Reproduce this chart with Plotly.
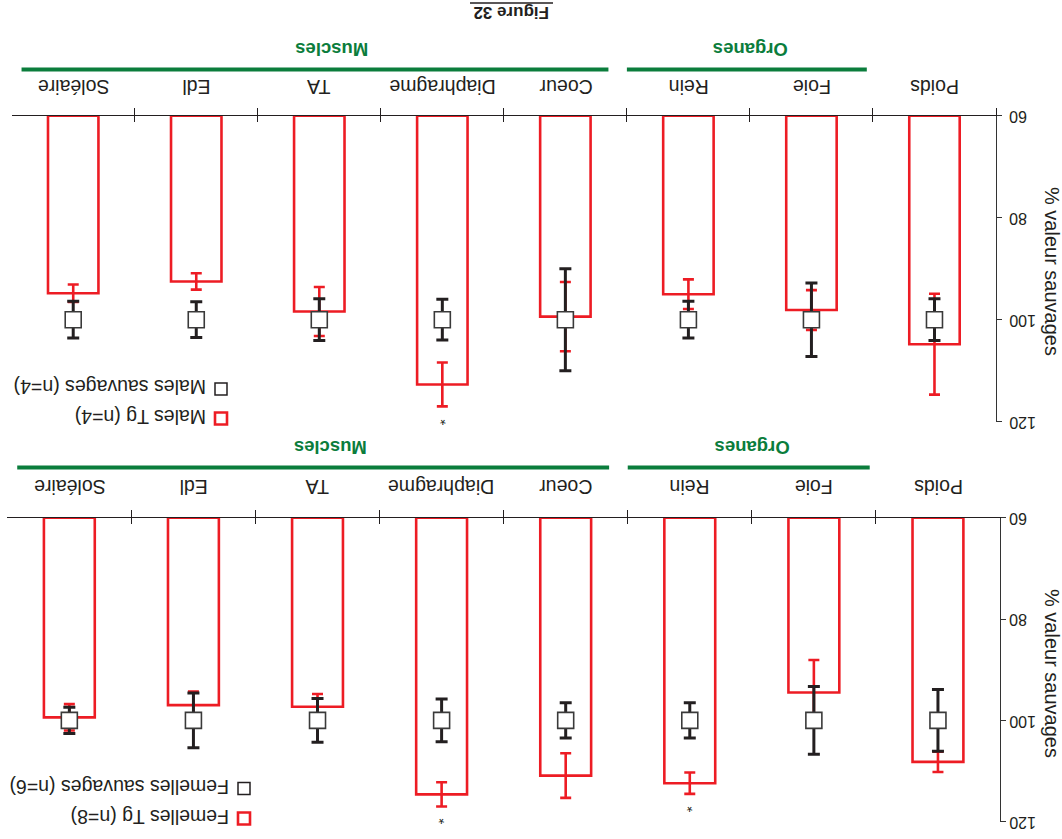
import plotly.graph_objects as go

# ---------------- data ----------------
categories = ["Poids", "Foie", "Rein", "Coeur", "Diaphragme", "TA", "Edl", "Soléaire"]

# Males (top panel)
males_tg = [104.8, 98.1, 95.0, 99.4, 112.7, 98.4, 92.5, 94.8]
males_tg_err = [9.9, 3.9, 2.9, 6.8, 4.3, 4.8, 1.6, 1.7]
males_wt = [100, 100, 100, 100, 100, 100, 100, 100]
males_wt_err = [4.1, 7.2, 3.6, 10.0, 4.0, 4.1, 3.5, 3.6]
males_signif = ["Diaphragme"]

# Females (bottom panel)
females_tg = [108.2, 94.5, 112.4, 110.9, 114.6, 97.3, 97.0, 99.4]
females_tg_err = [2.0, 6.4, 2.1, 4.4, 2.4, 2.5, 2.7, 2.6]
females_wt = [100, 100, 100, 100, 100, 100, 100, 100]
females_wt_err = [6.1, 6.7, 3.5, 3.5, 4.2, 4.3, 5.4, 2.6]
females_signif = ["Rein", "Diaphragme"]

legend_males = ["Males Tg (n=4)", "Males sauvages (n=4)"]
legend_females = ["Femelles Tg (n=8)", "Femelles sauvages (n=6)"]
group_names = ["Organes", "Muscles"]
y_ticks = [60, 80, 100, 120]
y_title = "% valeur sauvages"
fig_title = "Figure 32"

# ---------------- style ----------------
RED = "#ed1c24"
BLK = "#231f20"
GREEN = "#0b7d3c"
FONT = "Liberation Sans, Arial, sans-serif"
BASE = 60

W, H = 1062, 839


def px(x):
    return x / W


def py(y):
    return 1 - y / H


fig = go.Figure()

panels = [
    dict(tg=males_tg, tge=males_tg_err, wt=males_wt, wte=males_wt_err, sig=males_signif,
         xa="x", xb="x3", ya="y", lab_y=86.5),
    dict(tg=females_tg, tge=females_tg_err, wt=females_wt, wte=females_wt_err, sig=females_signif,
         xa="x2", xb="x4", ya="y2", lab_y=487.5),
]

for p in panels:
    fig.add_trace(go.Bar(
        x=categories, y=[v - BASE for v in p["tg"]], base=BASE, width=0.41,
        marker=dict(color="rgba(255,255,255,0)", line=dict(color=RED, width=2.6)),
        xaxis=p["xa"], yaxis=p["ya"], showlegend=False, hoverinfo="skip"))
    fig.add_trace(go.Scatter(
        x=categories, y=p["tg"], mode="markers",
        marker=dict(size=1, color="rgba(0,0,0,0)"),
        error_y=dict(type="data", array=p["tge"], color=RED, thickness=2.6, width=5.5),
        xaxis=p["xa"], yaxis=p["ya"], showlegend=False, hoverinfo="skip"))
    # wild-type squares on the overlaid twin axis (which carries the inner half of the ticks)
    fig.add_trace(go.Scatter(
        x=categories, y=p["wt"], mode="markers",
        marker=dict(symbol="square", size=16, color="white", line=dict(color="#3a3a3a", width=1.6)),
        error_y=dict(type="data", array=p["wte"], color=BLK, thickness=3, width=6),
        xaxis=p["xb"], yaxis=p["ya"], showlegend=False, hoverinfo="skip"))
    for c in p["sig"]:
        i = categories.index(c)
        fig.add_annotation(x=c, y=p["tg"][i] + p["tge"][i], xref=p["xa"], yref=p["ya"],
                           text="*", showarrow=False, textangle=180,
                           xanchor="center", yanchor="top",
                           yshift=-3, font=dict(family=FONT, size=15, color=BLK))
    # y tick labels (upside-down, left aligned next to the axis)
    for t in y_ticks:
        fig.add_annotation(x=px(1007), y=t, xref="paper", yref=p["ya"], text=str(t),
                           showarrow=False, textangle=180, xanchor="left", yanchor="middle",
                           yshift=-1, font=dict(family=FONT, size=16, color=BLK))
    # category labels (upside-down, above the axis)
    for c in categories:
        fig.add_annotation(x=c, y=py(p["lab_y"]), xref=p["xa"], yref="paper", text=c,
                           showarrow=False, textangle=180, xanchor="center", yanchor="middle",
                           font=dict(family=FONT, size=19.5, color=BLK))

axis_common_x = dict(
    categoryorder="array", categoryarray=categories, range=[7.5, -0.5],
    side="top", showline=True, linecolor=BLK, linewidth=1.3,
    ticks="outside", tickson="boundaries", ticklen=7, tickcolor=BLK, tickwidth=1.2,
    showticklabels=False,
    showgrid=False, zeroline=False, fixedrange=True, automargin=False)
axis_twin_x = dict(
    categoryorder="array", categoryarray=categories, range=[7.5, -0.5],
    side="top", showline=False,
    ticks="inside", tickson="boundaries", ticklen=6, tickcolor=BLK, tickwidth=1.2,
    showticklabels=False,
    showgrid=False, zeroline=False, fixedrange=True, automargin=False)
axis_common_y = dict(
    range=[120, 60], side="right", tickvals=y_ticks, showline=True, linecolor="#333",
    linewidth=1.3, ticks="outside", ticklen=5, tickcolor="#333", showticklabels=False,
    showgrid=False, zeroline=False, fixedrange=True, automargin=False)

dom_top_x = [px(11.7), px(996)]
dom_bot_x = [px(7.3), px(1000)]
fig.update_layout(
    xaxis=dict(domain=dom_top_x, anchor="y", **axis_common_x),
    yaxis=dict(domain=[py(421.7), py(115.7)], anchor="x", **axis_common_y),
    xaxis2=dict(domain=dom_bot_x, anchor="y2", **axis_common_x),
    yaxis2=dict(domain=[py(821.7), py(517.7)], anchor="x2", **axis_common_y),
    xaxis3=dict(domain=dom_top_x, anchor="y", overlaying="x", **axis_twin_x),
    xaxis4=dict(domain=dom_bot_x, anchor="y2", overlaying="x2", **axis_twin_x),
)

# group lines and labels (category index coordinates)
group_spans = [[0.55, 2.5], [2.65, 7.42]]
group_label_pos = [1.5, 4.9]
for (xa, line_y, label_y) in [("x", 69.5, 49), ("x2", 467.5, 448)]:
    for name, span, lx in zip(group_names, group_spans, group_label_pos):
        fig.add_shape(type="line", xref=xa, yref="paper", x0=span[0], x1=span[1],
                      y0=py(line_y), y1=py(line_y), line=dict(color=GREEN, width=4))
        fig.add_annotation(x=lx, y=py(label_y), xref=xa, yref="paper", text="<b>%s</b>" % name,
                           showarrow=False, textangle=180, xanchor="center", yanchor="middle",
                           font=dict(family=FONT, size=18.5, color=GREEN))

# y titles
for yc in [271, 673]:
    fig.add_annotation(x=px(1052), y=py(yc), xref="paper", yref="paper", text=y_title,
                       showarrow=False, textangle=90, xanchor="center", yanchor="middle",
                       font=dict(family=FONT, size=20, color=BLK))

# legends
for leg, xr, ys in [(legend_males, 221, (418.5, 389)), (legend_females, 244, (818.5, 788.5))]:
    for k, (txt, yy) in enumerate(zip(leg, ys)):
        col = RED if k == 0 else BLK
        lw = 2.6 if k == 0 else 1.5
        s = 6
        fig.add_shape(type="rect", xref="paper", yref="paper",
                      x0=px(xr - s), x1=px(xr + s), y0=py(yy - s), y1=py(yy + s),
                      line=dict(color=col, width=lw), fillcolor="white")
        fig.add_annotation(x=px(xr - 13), y=py(yy - 1.5), xref="paper", yref="paper", text=txt,
                           showarrow=False, textangle=180, xanchor="right", yanchor="middle",
                           font=dict(family=FONT, size=19.5, color=BLK))

# figure title with its (upside-down) underline
fig.add_annotation(x=px(511), y=py(12), xref="paper", yref="paper", text="<b>%s</b>" % fig_title,
                   showarrow=False, textangle=180, xanchor="center", yanchor="middle",
                   font=dict(family=FONT, size=17, color=BLK))
fig.add_shape(type="line", xref="paper", yref="paper", x0=px(470), x1=px(553),
              y0=py(3), y1=py(3), line=dict(color=BLK, width=1.5))

fig.update_layout(
    width=W, height=H, margin=dict(l=0, r=0, t=0, b=0, autoexpand=False),
    paper_bgcolor="white", plot_bgcolor="white", showlegend=False,
    font=dict(family=FONT),
)

fig.write_html(
    "out.html",
    config={"displayModeBar": False},
    post_script="document.body.style.margin='0';document.body.style.overflow='hidden';",
)
